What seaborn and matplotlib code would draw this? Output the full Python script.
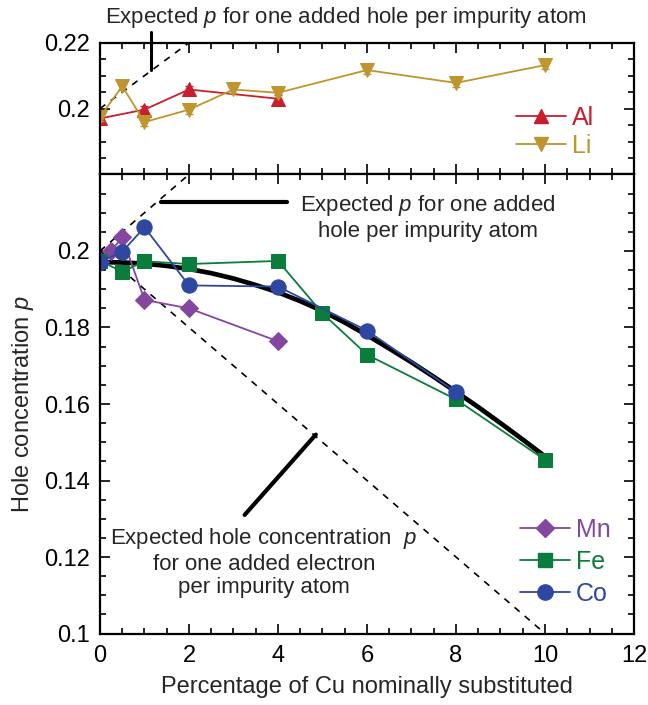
import matplotlib
matplotlib.use('Agg')
import matplotlib.pyplot as plt
import seaborn as sns
from matplotlib.ticker import MultipleLocator, FuncFormatter
from matplotlib.lines import Line2D

# ---- data ----
# top panel: Al and Li substitution
al_x = [0, 1, 2, 4]
al_p = [0.1970, 0.1997, 0.2058, 0.2030]
li_x = [0, 0.5, 1, 2, 3, 4, 6, 8, 10]
li_p = [0.1975, 0.2068, 0.1959, 0.1997, 0.2058, 0.2048, 0.2117, 0.2078, 0.2132]
top_err = 0.0012

# bottom panel: Mn, Fe, Co substitution
mn_x = [0, 0.25, 0.5, 1, 2, 4]
mn_p = [0.1972, 0.2000, 0.2036, 0.1872, 0.1850, 0.1764]
fe_x = [0, 0.5, 1, 2, 4, 5, 6, 8, 10]
fe_p = [0.1974, 0.1946, 0.1973, 0.1966, 0.1974, 0.1837, 0.1729, 0.1612, 0.1454]
co_x = [0, 0.5, 1, 2, 4, 6, 8]
co_p = [0.1972, 0.1998, 0.2062, 0.1910, 0.1907, 0.1792, 0.1631]

# thick guide curve
fit_x = [0, 0.5, 1, 1.5, 2, 2.5, 3, 3.5, 4, 4.5, 5, 5.5, 6, 6.5, 7, 7.5, 8, 8.5, 9, 9.5, 10]
fit_p = [0.1971, 0.1970, 0.1967, 0.1961, 0.1953, 0.1942, 0.1928, 0.1911, 0.1892, 0.1869,
         0.1843, 0.1813, 0.1780, 0.1745, 0.1709, 0.1671, 0.1632, 0.1592, 0.1550, 0.1507, 0.1463]

# expected p lines (one hole / one electron per impurity)
hole_x = [0, 2]
hole_p = [0.20, 0.22]
elec_x = [0, 10]
elec_p = [0.20, 0.10]

colors = {'Al': '#C81E2D', 'Li': '#BE962D', 'Mn': '#8447A0', 'Fe': '#0A7D3C', 'Co': '#2E47A0'}

sns.set_style('ticks')
plt.rcParams['font.family'] = ['Liberation Sans', 'DejaVu Sans']
plt.rcParams['mathtext.fontset'] = 'custom'
plt.rcParams['mathtext.it'] = 'Liberation Sans:italic'
plt.rcParams['mathtext.rm'] = 'Liberation Sans'

fig = plt.figure(figsize=(6.48, 7.05), dpi=100)
ax_top = fig.add_axes([0.1543, 0.7525, 0.8241, 0.1869])
ax = fig.add_axes([0.1543, 0.1014, 0.8241, 0.6511])

fmt = FuncFormatter(lambda v, pos: '%g' % round(v, 3))

for a in (ax_top, ax):
    a.set_xlim(0, 12)
    a.xaxis.set_major_locator(MultipleLocator(2))
    a.xaxis.set_minor_locator(MultipleLocator(0.5))
    a.yaxis.set_major_locator(MultipleLocator(0.02))
    a.yaxis.set_minor_locator(MultipleLocator(0.005))
    a.yaxis.set_major_formatter(fmt)
    a.tick_params(which='both', direction='in', top=True, right=True, width=1.2, colors='black')
    a.tick_params(which='major', length=7, labelsize=17, pad=7)
    a.tick_params(which='minor', length=4.5)
    for s in a.spines.values():
        s.set_linewidth(1.6)
        s.set_color('black')

ax_top.set_ylim(0.18, 0.22)
ax_top.set_yticks([0.2, 0.22])
ax_top.tick_params(labelbottom=False)
ax.set_ylim(0.1, 0.22)
ax.set_yticks([0.1, 0.12, 0.14, 0.16, 0.18, 0.2])
ax.xaxis.set_major_formatter(FuncFormatter(lambda v, pos: '%d' % v))
ax.tick_params(axis='x', which='major', pad=8)

# ---- top panel ----
ax_top.plot(hole_x, hole_p, ls=(0, (4, 4)), color='black', lw=1.2)
for name, xs, ps, mk in [('Al', al_x, al_p, '^'), ('Li', li_x, li_p, 'v')]:
    c = colors[name]
    ax_top.errorbar(xs, ps, yerr=top_err, fmt='none', ecolor=c, elinewidth=1, capsize=3, capthick=1)
    sns.lineplot(x=xs, y=ps, ax=ax_top, color=c, lw=1.3, marker=mk, markersize=10,
                 markeredgecolor=c, errorbar=None)

ax_top.plot([1.157, 1.157], [0.2116, 0.2234], color='black', lw=2.2, clip_on=False)
ax_top.text(5.53, 0.2276, 'Expected $p$ for one added hole per impurity atom',
            ha='center', va='center', fontsize=16)

h_top = [Line2D([], [], color=colors['Al'], marker='^', ms=10, lw=1.3),
         Line2D([], [], color=colors['Li'], marker='v', ms=10, lw=1.3)]
ax_top.legend(h_top, ['Al', 'Li'], frameon=False, fontsize=18, labelcolor='linecolor',
              handlelength=2.0, handletextpad=0.25, labelspacing=0.15,
              loc='upper left', bbox_to_anchor=(0.779, 0.52), borderpad=0, borderaxespad=0)

# ---- bottom panel ----
ax.plot(hole_x, hole_p, ls=(0, (4, 4)), color='black', lw=1.2)
ax.plot(elec_x, elec_p, ls=(0, (4, 4)), color='black', lw=1.2)
sns.lineplot(x=fit_x, y=fit_p, ax=ax, color='black', lw=3.4, errorbar=None)

for name, xs, ps, mk, ms in [('Mn', mn_x, mn_p, 'D', 9), ('Fe', fe_x, fe_p, 's', 10),
                              ('Co', co_x, co_p, 'o', 11)]:
    c = colors[name]
    sns.lineplot(x=xs, y=ps, ax=ax, color=c, lw=1.3, marker=mk, markersize=ms,
                 markeredgecolor=c, errorbar=None)

ax.plot([1.37, 4.21], [0.2128, 0.2128], color='black', lw=3)
ax.text(7.37, 0.2088, 'Expected $p$ for one added\nhole per impurity atom',
        ha='center', va='center', fontsize=16, linespacing=1.2)
ax.plot([3.25, 4.85], [0.131, 0.152], color='black', lw=3)
ax.text(3.68, 0.1186, 'Expected hole concentration  $p$\nfor one added electron\nper impurity atom',
        ha='center', va='center', fontsize=16, linespacing=1.15)

h_bot = [Line2D([], [], color=colors['Mn'], marker='D', ms=9, lw=1.3),
         Line2D([], [], color=colors['Fe'], marker='s', ms=10, lw=1.3),
         Line2D([], [], color=colors['Co'], marker='o', ms=11, lw=1.3)]
ax.legend(h_bot, ['Mn', 'Fe', 'Co'], frameon=False, fontsize=18, labelcolor='linecolor',
          handlelength=2.0, handletextpad=0.25, labelspacing=0.32,
          loc='upper left', bbox_to_anchor=(0.7865, 0.252), borderpad=0, borderaxespad=0)

ax.set_xlabel('Percentage of Cu nominally substituted', fontsize=17, labelpad=7)
ax.set_ylabel('Hole concentration $p$', fontsize=17, labelpad=6)

fig.savefig('out.png', dpi=100)
